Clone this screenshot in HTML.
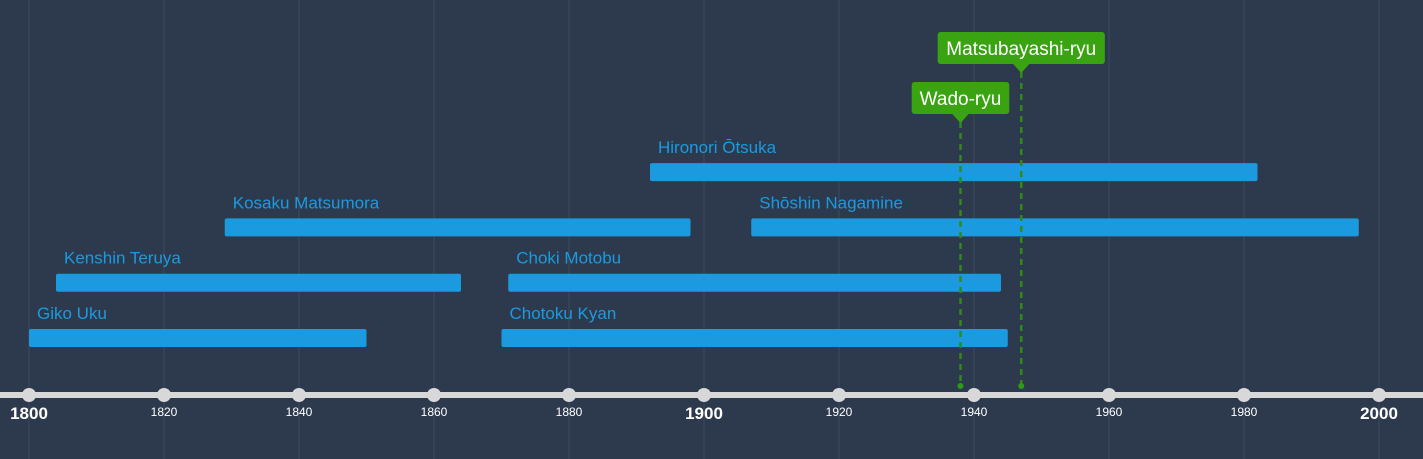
<!DOCTYPE html>
<html><head><meta charset="utf-8"><style>
html,body{margin:0;padding:0;background:#2d3a4e;}
svg{display:block;font-family:"Liberation Sans",sans-serif;}
</style></head><body>
<svg id="c" width="1423" height="459">
<rect width="1423" height="459" fill="#2d3a4e"/>
<g id="grid"></g><g id="bars"></g><g id="axis"></g><g id="flags"></g>
</svg>
<script>
const names=["Giko Uku","Kenshin Teruya","Kosaku Matsumora","Choki Motobu","Chotoku Kyan","Hironori Ōtsuka","Shōshin Nagamine"];
const starts=[1800,1804,1829,1871,1870,1892,1907];
const ends=[1850,1864,1898,1944,1945,1982,1997];
const rows=[0,1,2,1,0,3,2];
const ticks=[1800,1820,1840,1860,1880,1900,1920,1940,1960,1980,2000];
const majorTicks=[1800,1900,2000];
const flagNames=["Wado-ryu","Matsubayashi-ryu"];
const flagYears=[1938,1947];
const flagLevels=[0,1];
const NS="http://www.w3.org/2000/svg";
const x=y=>29+(y-1800)*6.75;
const rowY=r=>329-r*55.3;
function mk(tag,attrs,parent){const e=document.createElementNS(NS,tag);for(const k in attrs)e.setAttribute(k,attrs[k]);parent.appendChild(e);return e;}
const grid=document.getElementById('grid'),bars=document.getElementById('bars'),axis=document.getElementById('axis'),flags=document.getElementById('flags');
ticks.forEach(t=>{const l=mk('line',{x1:x(t),x2:x(t),y1:0,y2:459,stroke:'#3a4a5c','stroke-width':1},grid);

});
names.forEach((n,i)=>{const y=rowY(rows[i]);
const r=mk('rect',{x:x(starts[i]),y:y,width:x(ends[i])-x(starts[i]),height:18,rx:2,fill:'#1b9ae0'},bars);


const t=mk('text',{x:x(starts[i])+8,y:y-10,fill:'#1b9ae0','font-size':17},bars);t.textContent=n;

});
const al=mk('line',{x1:0,x2:1423,y1:395,y2:395,stroke:'#d8d8d8','stroke-width':6},axis);


ticks.forEach(t=>{const c=mk('circle',{cx:x(t),cy:395,r:7,fill:'#d8d8d8'},axis);


const maj=majorTicks.includes(t);
const tx=mk('text',{x:x(t),y:maj?419:416,fill:'#fff','font-size':maj?17:12,'font-weight':maj?'bold':'normal','text-anchor':'middle'},axis);
tx.textContent=t;

});
flagNames.forEach((n,i)=>{const fx=x(flagYears[i]);const top=82-flagLevels[i]*50;
const w=n.length*8.7+28;const bx=Math.min(fx-w/2,fx-48);
const dl=mk('line',{x1:fx,x2:fx,y1:top+40,y2:386,stroke:'#2f8a1a','stroke-width':2.5,'stroke-dasharray':'6,5'},flags);


const dot=mk('circle',{cx:fx,cy:386,r:3,fill:'#2f9a16'},flags);


const g=mk('g',{},flags);


mk('rect',{x:bx,y:top,width:w,height:32,rx:3,fill:'#3aa312'},g);
mk('path',{d:`M${fx-9},${top+31} L${fx+9},${top+31} L${fx},${top+41} Z`,fill:'#3aa312'},g);
const t=mk('text',{x:bx+w/2,y:top+23,fill:'#fff','font-size':19,'text-anchor':'middle'},g);t.textContent=n;

});
</script>
</body></html>
